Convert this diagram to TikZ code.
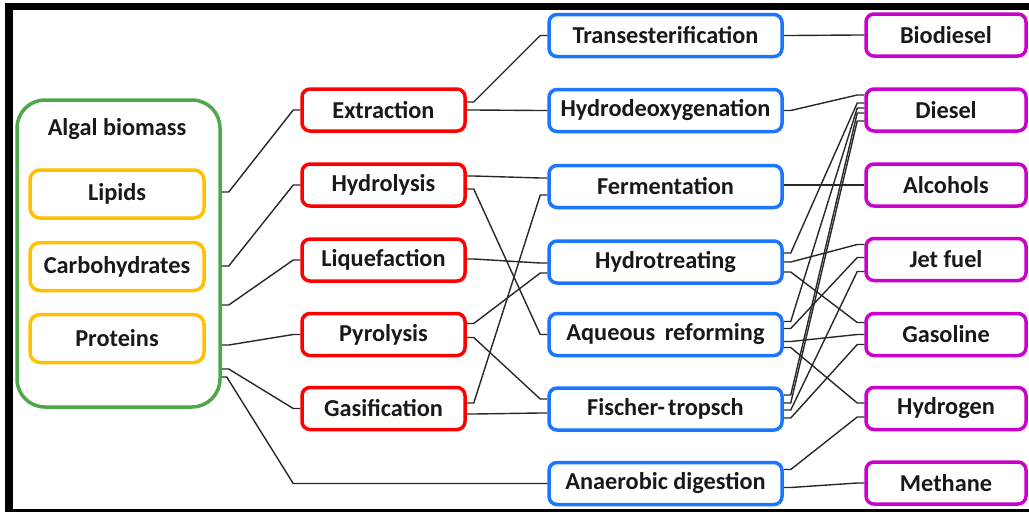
\documentclass[tikz,border=0pt]{standalone}
\usepackage{fontspec}
\setmainfont{Carlito}
\usetikzlibrary{calc}
\definecolor{gr}{RGB}{76,168,72}
\definecolor{yl}{RGB}{255,192,0}
\definecolor{rd}{RGB}{255,0,0}
\definecolor{bl}{RGB}{26,117,255}
\definecolor{pu}{RGB}{204,0,204}
\definecolor{tx}{RGB}{25,25,25}
\definecolor{ln}{RGB}{40,40,40}
\newcommand\lk[4]{\draw[conn] ([yshift=#2pt]#1.east) -- ++(7,0) -- ([shift={(-7pt,#4pt)}]#3.west) -- ([yshift=#4pt]#3.west);}
\begin{document}
\begin{tikzpicture}[x=1pt,y=-1pt,
 box/.style={draw, line width=3.5pt, rounded corners=8pt, fill=white, text=tx, font=\bfseries\fontsize{24.3}{29}\selectfont, inner sep=0pt, minimum height=42pt},
 redbox/.style={box, draw=rd, minimum width=163pt},
 bluebox/.style={box, draw=bl, minimum width=233pt},
 purbox/.style={box, draw=pu, minimum width=160pt},
 yelbox/.style={box, draw=yl, minimum width=174pt, minimum height=48pt, rounded corners=10pt},
 conn/.style={draw=ln, line width=1.4pt}
]
\useasboundingbox (0,0) rectangle (1029,512);
\fill[white] (0,0) rectangle (1029,512);
\fill[black] (5,3) rectangle (1029,10);
\fill[black] (5,3) rectangle (13,512);
\fill[black] (5,509) rectangle (1029,512);

% source
\node[draw=gr, line width=3.5pt, rounded corners=28pt, minimum width=203pt, minimum height=307pt, inner sep=0pt] (alg) at (118.5,253.5) {};
\node[text=tx, font=\bfseries\fontsize{24.3}{29}\selectfont] (algt) at (117,129) {Algal biomass};
\node[yelbox] (lip) at (117,194) {Lipids};
\node[yelbox] (car) at (117,266.5) {Carbohydrates};
\node[yelbox] (pro) at (117,338.5) {Proteins};

% red
\node[redbox] (ext) at (383.5,110) {Extraction};
\node[redbox] (hyd) at (383.5,185) {Hydrolysis};
\node[redbox] (liq) at (383.5,260) {Liquefaction};
\node[redbox] (pyr) at (383.5,334.5) {Pyrolysis};
\node[redbox] (gas) at (383.5,408.5) {Gasification};

% blue
\node[bluebox] (tra) at (665.5,35.5) {Transesterification};
\node[bluebox] (hdo) at (665.5,110.5) {Hydrodeoxygenation};
\node[bluebox] (fer) at (665.5,186.5) {Fermentation};
\node[bluebox] (htr) at (665.5,262) {Hydrotreating};
\node[bluebox] (aqr) at (665.5,334.5) {Aqueous\hspace{4pt} reforming};
\node[bluebox] (ftr) at (665.5,409) {Fischer-\hspace{3pt}tropsch};
\node[bluebox] (ana) at (665.5,483.5) {Anaerobic digestion};

% purple
\node[purbox] (bio) at (946,35) {Biodiesel};
\node[purbox] (die) at (946,110) {Diesel};
\node[purbox] (alc) at (946,185) {Alcohols};
\node[purbox] (jet) at (946,259.5) {Jet fuel};
\node[purbox] (gsl) at (946,334.5) {Gasoline};
\node[purbox] (hgn) at (946,408.5) {Hydrogen};
\node[purbox] (met) at (946,483) {Methane};

% green -> red
\lk{alg}{61.5}{ext}{0}
\lk{alg}{-12.5}{hyd}{0}
\lk{alg}{-51.5}{liq}{0}
\lk{alg}{-91.5}{pyr}{0}
\lk{alg}{-115.5}{gas}{0}
\draw[conn] ([yshift=-123.5pt]alg.east) -- ++(5,0) -- ([xshift=-7pt]gas.west |- ana.west) -- (ana.west);

% red -> blue
\lk{ext}{8}{tra}{0}
\lk{ext}{0}{hdo}{0}
\lk{hyd}{9}{fer}{8.5}
\lk{hyd}{-4}{aqr}{0}
\lk{liq}{1}{htr}{-1}
\lk{pyr}{11}{htr}{-11}
\lk{pyr}{-3}{ftr}{10}
\lk{gas}{5.5}{fer}{-8.5}
\lk{gas}{-5.5}{ftr}{-4}

% blue -> purple
\lk{tra}{0}{bio}{0}
\lk{hdo}{0}{die}{15}
\lk{fer}{1.5}{alc}{0}
\lk{htr}{9}{die}{7}
\lk{htr}{0}{jet}{15}
\lk{htr}{-10}{gsl}{12}
\lk{aqr}{13}{die}{2}
\lk{aqr}{6}{jet}{2}
\lk{aqr}{-7}{gsl}{0}
\lk{aqr}{-13}{hgn}{5.5}
\lk{ftr}{14}{die}{-3}
\lk{ftr}{6}{die}{-11}
\lk{ftr}{-1}{jet}{-12}
\lk{ftr}{-9}{gsl}{-10}
\lk{ana}{14}{hgn}{-8.5}
\lk{ana}{-4}{met}{0}
\end{tikzpicture}
\end{document}
